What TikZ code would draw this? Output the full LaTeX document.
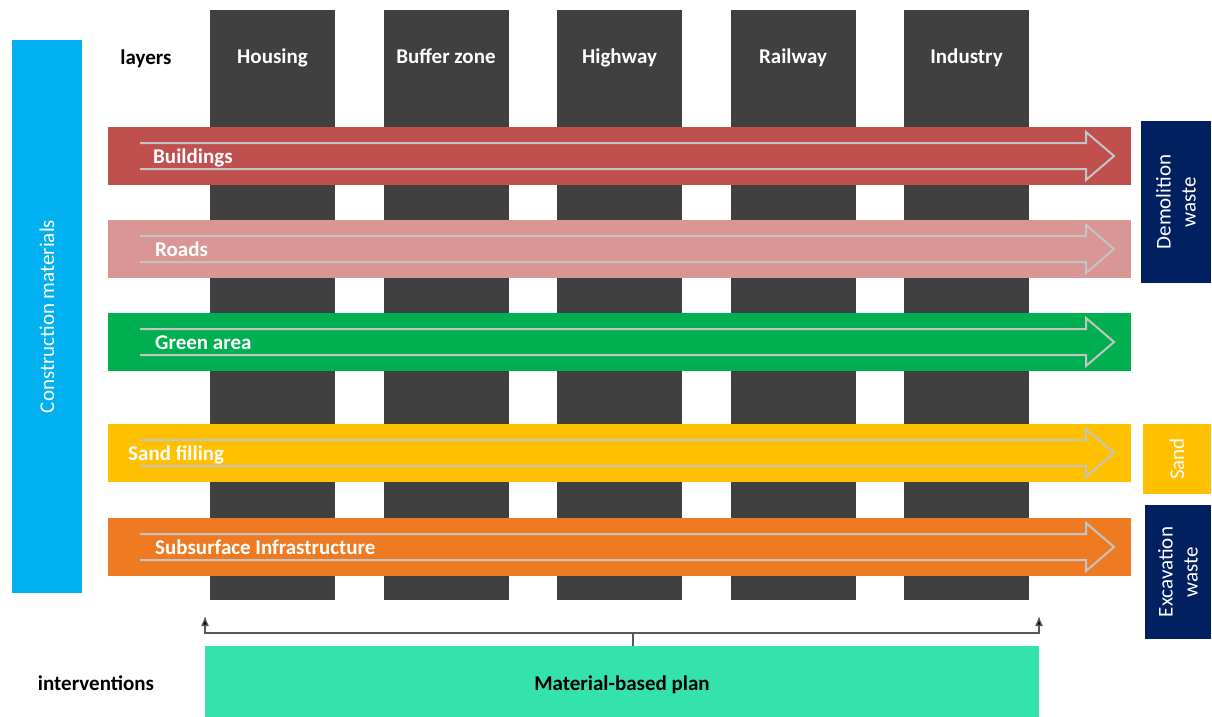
\documentclass[tikz,border=0pt]{standalone}
\usepackage{fontspec}
\setmainfont{Carlito}
\usetikzlibrary{arrows.meta, positioning}

\definecolor{layergray}{HTML}{404040}
\definecolor{matblue}{HTML}{00B0F0}
\definecolor{buildred}{HTML}{C0504D}
\definecolor{roadpink}{HTML}{D99694}
\definecolor{greenarea}{HTML}{00B050}
\definecolor{sandyellow}{HTML}{FFC000}
\definecolor{subsorange}{HTML}{EE7B22}
\definecolor{wastenavy}{HTML}{002060}
\definecolor{planmint}{HTML}{34E3AB}
\definecolor{flowgray}{HTML}{C4C4C4}
\definecolor{linkgray}{HTML}{595959}

\begin{document}
\begin{tikzpicture}[x=1pt, y=-1pt,
  every node/.style={font=\fontsize{21}{25}\selectfont},
  layer/.style={fill=layergray, minimum width=125pt, minimum height=590pt, inner sep=0pt},
  layertext/.style={text=white, font=\fontsize{21}{25}\selectfont\bfseries, text height=14pt, text depth=5pt},
  band/.style={minimum width=1023pt, minimum height=58pt, inner sep=0pt, anchor=west},
  bandtext/.style={text=white, font=\fontsize{21}{25}\selectfont\bfseries, inner sep=0pt, anchor=west,
                   text height=14pt, text depth=5pt},
  flow/.style={draw=flowgray, line width=2pt},
  waste/.style={text=white, align=center, rotate=90, inner sep=0pt},
  plaintext/.style={font=\fontsize{21}{25}\selectfont\bfseries, text height=14pt, text depth=5pt},
  link/.style={draw=linkgray, line width=1.3pt},
  tip/.style={-{Latex[length=10pt,width=8pt,fill=black]}}
]
  \useasboundingbox (0,0) rectangle (1212,717);

  % construction materials bar
  \node[fill=matblue, text=white, rotate=90, minimum width=553pt, minimum height=70pt, inner sep=0pt]
    (constr) at (47,316.5) {Construction materials};
  \node[plaintext] (layers) at (146,59.5) {layers};

  % layers
  \foreach \n/\x/\name in {hous/272.5/Housing, buff/446/Buffer zone, high/619.5/Highway,
                           rail/793/Railway, ind/966.5/Industry} {
    \node[layer] (\n) at (\x,305) {};
    \node[layertext] (\n-lbl) at ([yshift=-49.5pt]\n.north) {\name};
  }

  % material flows
  \foreach \b/\y/\col/\txt/\tx in {build/156/buildred/Buildings/153, road/249/roadpink/Roads/155,
                                   green/342/greenarea/Green area/155, sand/453/sandyellow/Sand filling/128,
                                   subs/547/subsorange/Subsurface Infrastructure/155} {
    \node[band, fill=\col] (\b) at (108,\y) {};
    \draw[flow] ([shift={(32,-13)}]\b.west) -- ++(946,0) -- ++(0,-11) -- ++(28,24)
                -- ++(-28,24) -- ++(0,-11) -- ++(-946,0);
    \node[bandtext] (\b-lbl) at ([yshift=-2.5pt]\tx,\y) {\txt};
  }

  % outputs
  \node[waste, fill=wastenavy, minimum width=162pt, minimum height=70pt] (demo) at (1176,202) {Demolition\\waste};
  \node[waste, fill=sandyellow, minimum width=70pt, minimum height=68pt] (sandout) at (1177,459) {Sand};
  \node[waste, fill=wastenavy, minimum width=134pt, minimum height=66pt] (exca) at (1178,572) {Excavation\\waste};

  % interventions
  \node[plaintext] (interv) at (96,685.5) {interventions};
  \node[fill=planmint, minimum width=834pt, minimum height=71pt, inner sep=0pt, plaintext,
        text height=17pt, text depth=0pt] (plan) at (622,681.5) {Material-based plan};
  \coordinate (split) at (633,633);
  \coordinate (tipL) at (205,616);
  \coordinate (tipR) at (1039,616);
  \draw[link] (plan.north -| split) -- (split);
  \draw[link, tip] (split) -| (tipL);
  \draw[link, tip] (split) -| (tipR);
\end{tikzpicture}
\end{document}
